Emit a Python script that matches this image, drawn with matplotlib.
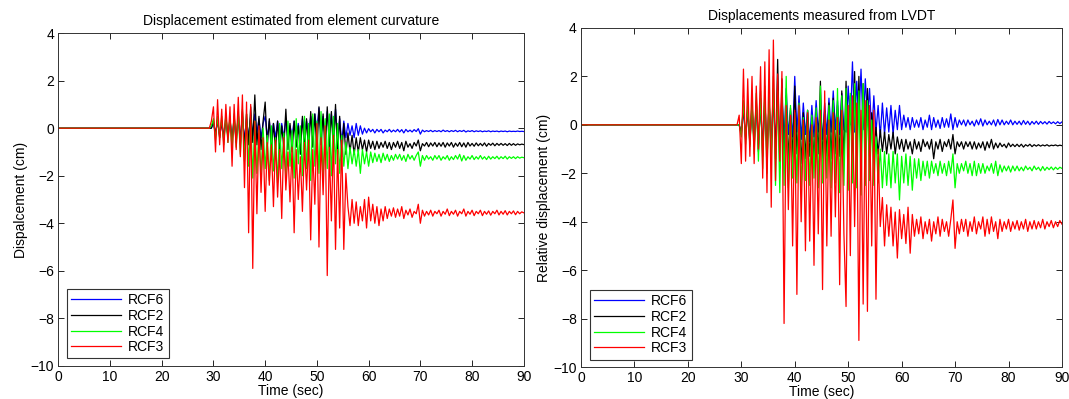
import numpy as np
import matplotlib
matplotlib.use("Agg")
import matplotlib.pyplot as plt

plt.rcParams['font.family'] = ['Liberation Sans', 'DejaVu Sans']

# time stamps (s): quiet phase then 0.4 s samples from 29.6 to 90
t_quiet = [0, 10, 20, 27, 29.2]
t_active = np.round(np.arange(29.6, 90.01, 0.4), 2)
t = np.concatenate([t_quiet, t_active])
quiet = [0.0, 0.0, 0.0, 0.0, 0.0]

series_names = ["RCF6", "RCF2", "RCF4", "RCF3"]
series_colors = ["#0000ff", "#000000", "#00ff00", "#ff0000"]

# ---- Left: displacement estimated from element curvature ----
curv_rcf3 = [0.3, 0.9, -1.0, 1.2, -0.7, 0.8, -1.0, 1.0, -0.6, 0.9,
             -1.6, 1.0, -0.9, 1.3, -1.2, 1.4, -2.5, 1.1, -4.4, 1.0,
             -5.9, 0.3, -3.6, 0.1, -2.7, -0.4, -3.5, -0.6, -2.4, -0.7,
             -3.3, -0.5, -2.9, -0.9, -3.8, -0.4, -2.6, -1.0, -3.1, -0.8,
             -4.4, -0.9, -3.0, -1.2, -3.5, -0.6, -2.6, -0.5, -4.7, -0.9,
             -3.2, 0.2, -5.0, -0.4, -2.8, 0.1, -6.2, -0.8, -3.9, -0.3,
             -5.1, -0.9, -4.2, -0.5, -5.1, -1.9, -3.3, -4.1, -3.0, -4.0,
             -3.1, -4.1, -3.3, -3.9, -3.0, -4.2, -2.9, -3.9, -3.2, -4.0,
             -3.3, -4.1, -3.4, -3.9, -3.3, -3.8, -3.4, -3.7, -3.35, -3.75,
             -3.4, -3.7, -3.3, -3.8, -3.45, -3.65, -3.4, -3.75, -3.5, -3.6,
             -3.2, -4.0, -3.45, -3.7, -3.5, -3.65, -3.45, -3.7, -3.5, -3.6,
             -3.45, -3.7, -3.5, -3.62, -3.4, -3.68, -3.5, -3.62, -3.45, -3.7,
             -3.5, -3.6, -3.4, -3.7, -3.5, -3.62, -3.45, -3.68, -3.5, -3.6,
             -3.45, -3.68, -3.5, -3.62, -3.48, -3.66, -3.5, -3.6, -3.45, -3.65,
             -3.5, -3.62, -3.47, -3.65, -3.5, -3.6, -3.48, -3.64, -3.5, -3.6,
             -3.52, -3.56]
curv_rcf4 = [0.1, 0.4, -0.5, 0.5, -0.4, 0.5, -0.7, 0.6, -0.6, 0.5,
             -0.9, 0.6, -0.8, 0.7, -1.1, 0.8, -1.4, 0.6, -1.6, 0.5,
             -2.1, 0.3, -1.9, -0.1, -2.0, 0.0, -1.7, -0.3, -2.2, 0.1,
             -1.8, -0.4, -2.3, 0.2, -1.7, -0.2, -2.0, 0.3, -1.6, -0.1,
             -2.1, 0.4, -1.5, 0.1, -2.0, 0.5, -1.7, 0.2, -2.2, 0.6,
             -1.6, 0.3, -1.9, 0.7, -2.1, 0.4, -1.7, 0.6, -2.0, 0.5,
             -1.5, 0.2, -1.9, -0.3, -1.6, -0.6, -1.7, -0.8, -1.5, -0.9,
             -1.6, -0.9, -1.9, -0.9, -1.5, -1.0, -1.6, -1.0, -1.45, -1.05,
             -1.4, -1.1, -1.45, -1.05, -1.35, -1.1, -1.4, -1.15, -1.35, -1.1,
             -1.3, -1.1, -1.35, -1.15, -1.4, -1.1, -1.3, -1.15, -1.35, -1.15,
             -1.0, -1.6, -1.15, -1.35, -1.15, -1.3, -1.2, -1.35, -1.15, -1.3,
             -1.15, -1.35, -1.2, -1.3, -1.15, -1.35, -1.2, -1.32, -1.15, -1.3,
             -1.1, -1.38, -1.15, -1.35, -1.2, -1.3, -1.15, -1.32, -1.2, -1.3,
             -1.15, -1.3, -1.2, -1.32, -1.18, -1.3, -1.2, -1.28, -1.18, -1.3,
             -1.2, -1.28, -1.18, -1.3, -1.2, -1.27, -1.2, -1.28, -1.2, -1.26,
             -1.22, -1.24]
curv_rcf2 = [0.0, 0.3, -0.3, 0.4, -0.4, 0.3, -0.5, 0.5, -0.4, 0.4,
             -0.6, 0.5, -0.6, 0.6, -0.7, 0.7, -0.8, 0.6, -0.7, 0.9,
             -0.6, 1.4, -0.7, 0.5, -0.9, 0.3, 1.1, -0.8, 0.4, -1.0,
             0.2, -0.9, 0.3, -1.0, 0.1, -0.8, 0.8, -0.9, 0.2, -1.0,
             0.3, -0.8, 0.1, -1.1, 0.5, -0.9, 0.4, -1.0, 0.7, -0.8,
             0.6, -1.0, 0.9, -0.7, 0.6, -1.1, 0.9, -0.8, 0.7, -1.0,
             1.0, -1.1, 0.5, -1.2, 0.2, -1.1, -0.2, -1.0, -0.3, -1.1,
             -0.4, -1.0, -0.4, -0.9, -0.5, -1.0, -0.5, -0.85, -0.55, -0.9,
             -0.55, -0.85, -0.6, -0.8, -0.55, -0.85, -0.6, -0.9, -0.6, -0.8,
             -0.55, -0.85, -0.6, -0.95, -0.55, -0.8, -0.65, -0.85, -0.6, -0.75,
             -0.5, -0.95, -0.65, -0.75, -0.6, -0.78, -0.62, -0.75, -0.6, -0.78,
             -0.62, -0.76, -0.6, -0.8, -0.62, -0.75, -0.6, -0.8, -0.63, -0.76,
             -0.6, -0.78, -0.62, -0.8, -0.6, -0.75, -0.64, -0.76, -0.62, -0.74,
             -0.64, -0.74, -0.62, -0.76, -0.64, -0.72, -0.63, -0.74, -0.64, -0.72,
             -0.64, -0.72, -0.65, -0.73, -0.64, -0.72, -0.65, -0.72, -0.66, -0.7,
             -0.67, -0.69]
curv_rcf6 = [0.0, 0.2, -0.2, 0.3, -0.3, 0.2, -0.3, 0.3, -0.3, 0.3,
             -0.4, 0.3, -0.4, 0.4, -0.4, 0.5, -0.5, 0.4, -0.4, 0.5,
             -0.3, 0.6, -0.2, 0.4, -0.4, 0.2, 0.5, -0.4, 0.3, -0.5,
             0.2, -0.4, 0.3, -0.5, 0.2, -0.4, 0.4, -0.5, 0.1, -0.3,
             0.3, -0.4, 0.2, -0.5, 0.4, -0.2, 0.3, -0.3, 0.5, -0.2,
             0.6, -0.1, 0.85, -0.3, 0.5, -0.4, 0.7, -0.3, 0.6, -0.4,
             0.8, -0.5, 0.4, -0.6, 0.3, -0.4, 0.2, -0.3, 0.1, -0.4,
             0.2, -0.3, 0.1, -0.25, 0.0, -0.2, -0.02, -0.15, -0.05, -0.2,
             -0.05, -0.15, -0.05, -0.2, -0.08, -0.15, -0.05, -0.16, -0.08, -0.15,
             -0.05, -0.16, -0.06, -0.2, -0.05, -0.15, -0.08, -0.16, -0.06, -0.14,
             -0.02, -0.25, -0.08, -0.15, -0.1, -0.14, -0.09, -0.15, -0.1, -0.14,
             -0.1, -0.15, -0.08, -0.14, -0.1, -0.15, -0.1, -0.14, -0.09, -0.15,
             -0.1, -0.14, -0.09, -0.16, -0.11, -0.14, -0.1, -0.15, -0.11, -0.14,
             -0.11, -0.15, -0.12, -0.14, -0.11, -0.15, -0.12, -0.14, -0.12, -0.15,
             -0.12, -0.14, -0.12, -0.15, -0.12, -0.14, -0.13, -0.14, -0.12, -0.14,
             -0.13, -0.14]

# ---- Right: displacements measured from LVDT ----
lvdt_rcf3 = [0.4, -1.6, 2.3, -1.5, 1.9, -1.3, 2.0, -1.6, 1.6, -1.0,
             2.4, -2.2, 2.6, -2.8, 3.1, -3.4, 3.5, -2.3, 2.1, -1.5,
             2.2, -8.2, 0.8, -3.5, 0.4, -5.0, 0.6, -7.0, 0.8, -4.0,
             0.2, -5.2, 0.5, -4.8, 0.0, -5.8, 0.3, -4.5, 0.6, -6.8,
             1.4, -5.0, 0.2, -4.6, 0.5, -3.8, 0.3, -6.6, 0.6, -4.5,
             -7.5, 0.8, -5.4, 1.2, -4.2, 0.9, -8.9, 0.6, -7.4, 1.0,
             -7.7, 0.8, -5.0, 0.6, -7.2, -1.0, -4.2, -3.0, -5.0, -3.3,
             -4.6, -3.4, -5.0, -3.6, -5.5, -3.5, -4.7, -3.7, -4.9, -3.4,
             -5.3, -3.7, -4.6, -3.9, -4.5, -3.8, -4.7, -4.0, -4.5, -3.9,
             -4.8, -4.0, -4.5, -3.8, -4.6, -3.9, -4.4, -4.0, -4.6, -3.9,
             -3.1, -5.1, -4.0, -4.5, -3.9, -4.4, -3.9, -4.6, -4.0, -4.4,
             -3.8, -4.5, -4.0, -4.3, -3.8, -4.6, -3.9, -4.5, -3.8, -4.4,
             -4.0, -4.7, -3.9, -4.4, -4.0, -4.3, -3.9, -4.4, -4.0, -4.3,
             -3.95, -4.35, -4.0, -4.3, -3.9, -4.4, -4.0, -4.3, -3.95, -4.3,
             -4.0, -4.25, -3.9, -4.3, -4.0, -4.2, -3.95, -4.25, -4.0, -4.2,
             -3.95, -4.1]
lvdt_rcf4 = [0.0, -0.5, 1.0, -0.8, 0.9, -0.9, 1.0, -1.2, 1.3, -1.5,
             1.4, -1.8, 1.6, -2.0, 1.2, -1.5, 2.0, -2.5, 1.4, -2.8,
             1.5, -2.5, 2.0, -2.6, 0.8, -2.2, 0.5, -2.4, 0.9, -2.7,
             0.3, -2.3, 0.6, -2.5, 0.4, -2.2, 0.7, -2.6, 1.6, -2.4,
             0.5, -2.2, 0.8, -2.6, 1.0, -2.4, 1.5, -2.8, 1.2, -2.5,
             1.5, -2.7, 1.3, -2.4, 1.7, -2.6, 1.4, -2.9, 1.7, -2.5,
             1.0, -2.3, 0.2, -2.5, -0.5, -2.4, -1.0, -2.6, -1.1, -2.5,
             -1.2, -2.6, -1.1, -2.4, -1.2, -3.1, -1.3, -2.4, -1.2, -2.5,
             -1.3, -2.7, -1.4, -2.2, -1.4, -2.3, -1.5, -2.1, -1.5, -2.2,
             -1.5, -2.0, -1.6, -2.1, -1.5, -2.0, -1.6, -2.1, -1.5, -2.0,
             -1.2, -2.6, -1.6, -2.0, -1.6, -1.9, -1.5, -2.0, -1.6, -2.1,
             -1.5, -2.1, -1.6, -2.0, -1.6, -2.0, -1.7, -1.9, -1.6, -2.0,
             -1.5, -2.1, -1.65, -1.95, -1.7, -1.9, -1.7, -1.95, -1.7, -1.9,
             -1.7, -1.9, -1.75, -1.9, -1.7, -1.85, -1.75, -1.9, -1.7, -1.85,
             -1.75, -1.9, -1.72, -1.88, -1.75, -1.85, -1.74, -1.86, -1.75, -1.84,
             -1.75, -1.8]
lvdt_rcf2 = [0.0, -0.4, 0.8, -0.6, 0.7, -0.8, 0.9, -0.9, 1.0, -1.1,
             1.1, -1.3, 1.2, -1.5, 1.0, -1.2, 1.5, -1.4, 2.7, -1.8,
             1.9, -1.6, 1.2, -1.5, 0.7, -1.4, 1.6, -1.2, 0.4, -1.6,
             0.5, -1.4, 0.6, -1.3, 0.3, -1.4, 0.5, -1.2, 1.8, -1.5,
             0.6, -1.3, 0.9, -1.4, 1.1, -1.2, 0.8, -1.3, 1.4, -1.5,
             1.8, -1.3, 1.2, -1.5, 2.2, -1.4, 2.0, -1.3, 1.7, -1.2,
             1.5, -1.3, 0.5, -1.1, -0.1, -1.2, -0.2, -1.1, -0.3, -1.2,
             -0.4, -1.0, -0.3, -1.2, -0.5, -1.0, -0.6, -1.1, -0.6, -1.0,
             -0.7, -1.2, -0.6, -1.0, -0.7, -1.1, -0.6, -0.9, -0.7, -1.0,
             -0.6, -1.4, -0.7, -1.0, -0.6, -1.1, -0.7, -0.9, -0.6, -1.0,
             -0.4, -1.2, -0.7, -0.9, -0.7, -1.0, -0.7, -0.9, -0.7, -1.0,
             -0.7, -1.0, -0.75, -0.95, -0.7, -1.05, -0.7, -0.95, -0.6, -1.0,
             -0.75, -0.95, -0.75, -0.9, -0.8, -0.95, -0.75, -0.9, -0.8, -0.9,
             -0.8, -0.9, -0.8, -0.92, -0.82, -0.88, -0.8, -0.9, -0.82, -0.88,
             -0.82, -0.88, -0.83, -0.87, -0.82, -0.88, -0.84, -0.86, -0.83, -0.87,
             -0.84, -0.86]
lvdt_rcf6 = [0.0, -0.3, 0.6, -0.5, 0.6, -0.6, 0.7, -0.7, 0.8, -0.8,
             0.9, -0.9, 1.0, -1.0, 0.9, -0.8, 1.2, -0.9, 1.0, -0.7,
             1.2, -0.6, 1.5, -0.4, 0.6, -0.5, 2.0, -0.3, 1.2, -0.6,
             0.9, -0.4, 0.6, -0.7, 0.8, -0.5, 1.0, -0.3, 0.7, -0.6,
             0.9, -0.4, 1.1, -0.3, 1.4, -0.2, 1.0, -0.4, 1.3, -0.2,
             -0.3, 1.6, 0.0, 2.6, -0.3, 1.8, 0.2, 2.3, -0.2, 1.9,
             0.3, 1.5, -0.4, 1.2, -0.3, 0.8, -0.5, 0.9, -0.4, 0.7,
             -0.3, 0.8, -0.4, 0.6, -0.2, 0.8, -0.2, 0.4, -0.1, 0.3,
             -0.2, 0.3, -0.1, 0.2, -0.1, 0.3, -0.2, 0.2, -0.1, 0.4,
             -0.2, 0.3, -0.1, 0.2, -0.15, 0.3, -0.1, 0.25, -0.1, 0.45,
             -0.2, 0.3, -0.1, 0.2, 0.0, 0.2, -0.05, 0.2, 0.0, 0.15,
             -0.05, 0.2, 0.0, 0.25, -0.05, 0.2, 0.0, 0.15, 0.0, 0.2,
             -0.05, 0.22, 0.0, 0.2, 0.0, 0.15, 0.02, 0.2, 0.0, 0.15,
             0.02, 0.15, 0.0, 0.18, 0.02, 0.15, 0.0, 0.14, 0.03, 0.15,
             0.02, 0.14, 0.04, 0.13, 0.03, 0.14, 0.05, 0.12, 0.04, 0.13,
             0.05, 0.12]

x_ticks = [0, 10, 20, 30, 40, 50, 60, 70, 80, 90]
y_ticks = [-10, -8, -6, -4, -2, 0, 2, 4]

fig = plt.figure(figsize=(10.69, 3.99), dpi=100)
ax1 = fig.add_axes([0.0545, 0.083, 0.4355, 0.834])
ax2 = fig.add_axes([0.5435, 0.080, 0.4499, 0.850])

panels = [
    (ax1, [curv_rcf6, curv_rcf2, curv_rcf4, curv_rcf3],
     "Displacement estimated from element curvature", "Dispalcement (cm)"),
    (ax2, [lvdt_rcf6, lvdt_rcf2, lvdt_rcf4, lvdt_rcf3],
     "Displacements measured from LVDT", "Relative displacement (cm)"),
]

for ax, data, title, ylabel in panels:
    for name, col, vals in zip(series_names, series_colors, data):
        ax.plot(t, quiet + list(vals), color=col, lw=0.9, label=name)
    ax.set_xlim(0, 90)
    ax.set_ylim(-10, 4)
    ax.set_xticks(x_ticks)
    ax.set_yticks(y_ticks)
    ax.tick_params(direction='in', top=True, right=True, length=4,
                   width=0.6, labelsize=10, pad=3)
    for s in ax.spines.values():
        s.set_linewidth(0.7)
        s.set_color('#333333')
    ax.set_title(title, fontsize=10, pad=6)
    ax.set_xlabel("Time (sec)", fontsize=10, labelpad=0)
    ax.set_ylabel(ylabel, fontsize=10, labelpad=2)
    leg = ax.legend(loc='lower left', bbox_to_anchor=(0.01, 0.01),
                    borderaxespad=0.3,
                    fontsize=10, handlelength=3.6, handletextpad=0.5,
                    labelspacing=0.12, borderpad=0.3, fancybox=False,
                    framealpha=1, edgecolor='#333333')
    leg.get_frame().set_linewidth(0.8)

fig.savefig("out.png", dpi=100)
